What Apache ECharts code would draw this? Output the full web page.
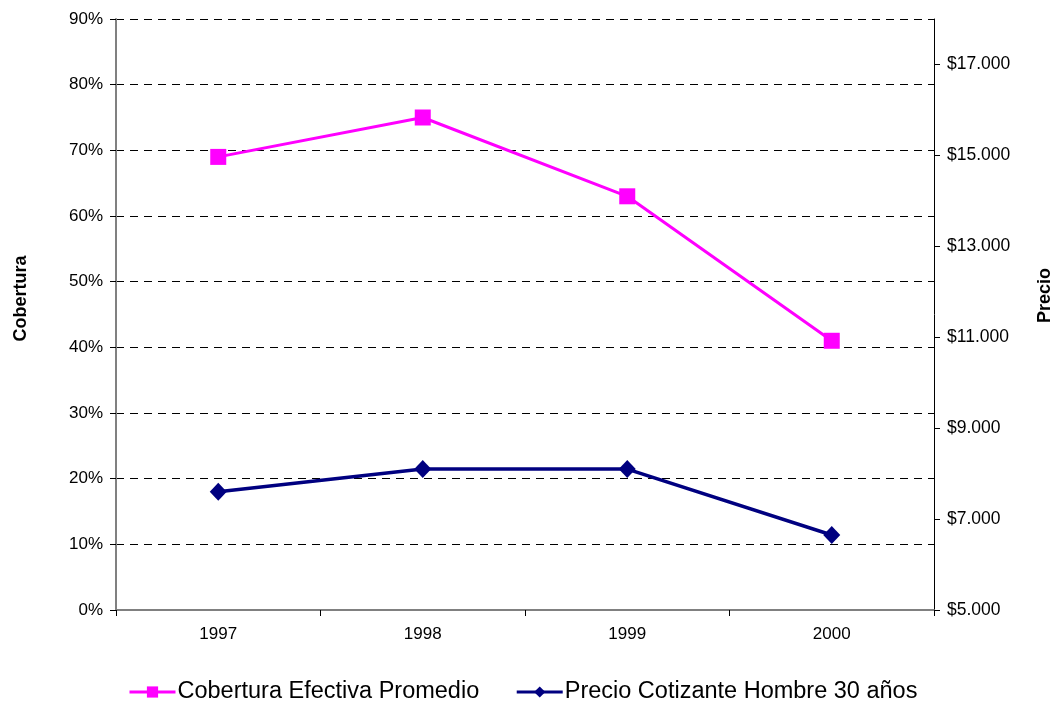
<!DOCTYPE html>
<html>
<head>
<meta charset="utf-8">
<script src="https://cdn.jsdelivr.net/npm/echarts@6/dist/echarts.min.js"></script>
<style>html,body{margin:0;padding:0;background:#fff;overflow:hidden;}#c{width:1057px;height:704px;}</style>
</head>
<body>
<div id="c"></div>
<script>
const categories = ['1997', '1998', '1999', '2000'];
const cobertura = [69, 75, 63, 41];
const precio = [7600, 8100, 8100, 6650];
const seriesNames = ['Cobertura Efectiva Promedio', 'Precio Cotizante Hombre 30 años'];

const FONT = 'Liberation Sans, Arial, sans-serif';
const chart = echarts.init(document.getElementById('c'), null, {renderer: 'canvas'});
chart.setOption({
  animation: false,
  backgroundColor: '#ffffff',
  textStyle: {fontFamily: FONT},
  grid: {left: 116, right: 123, top: 19, bottom: 94, containLabel: false, outerBoundsMode: 'none'},
  legend: {
    top: 680, left: 128, padding: 0, itemGap: 36, itemWidth: 46, itemHeight: 14,
    lineStyle: {width: 3},
    textStyle: {fontFamily: FONT, fontSize: 23.5, color: '#000', padding: [0, 0, 0, -3]},
    data: seriesNames
  },
  xAxis: {
    type: 'category', data: categories, boundaryGap: true,
    axisLine: {lineStyle: {color: '#808080', width: 2}},
    axisTick: {show: true, length: 6, alignWithLabel: false, lineStyle: {color: '#000'}},
    axisLabel: {color: '#000', fontSize: 17, margin: 16, fontFamily: FONT}
  },
  yAxis: [{
    type: 'value', min: 0, max: 90, interval: 10, position: 'left',
    name: 'Cobertura', nameLocation: 'middle', nameRotate: 90, nameGap: 86,
    nameTextStyle: {fontWeight: 'bold', fontSize: 18, color: '#000', fontFamily: FONT, padding: [0, 0, 0, 32]},
    axisLine: {show: true, lineStyle: {color: '#808080', width: 2}},
    axisTick: {show: true, length: 6, lineStyle: {color: '#000'}},
    axisLabel: {color: '#000', fontSize: 17, margin: 13, formatter: '{value}%', fontFamily: FONT},
    splitLine: {show: true, lineStyle: {color: '#000', type: [8, 6], width: 1}}
  }, {
    type: 'value', min: 5000, max: 18000, interval: 2000, position: 'right',
    name: 'Precio', nameLocation: 'middle', nameRotate: 90, nameGap: 102,
    nameTextStyle: {fontWeight: 'bold', fontSize: 18, color: '#000', fontFamily: FONT, padding: [0, 0, 0, 38]},
    axisLine: {show: true, lineStyle: {color: '#000', width: 1}},
    axisTick: {show: true, length: 6, lineStyle: {color: '#000'}},
    axisLabel: {
      color: '#000', fontSize: 17.5, margin: 13, showMaxLabel: false, fontFamily: FONT,
      formatter: v => v >= 18000 ? '' : '$' + String(v).replace(/\B(?=(\d{3})+(?!\d))/g, '.')
    },
    splitLine: {show: false}
  }],
  series: [{
    name: seriesNames[0], type: 'line', yAxisIndex: 0, data: cobertura,
    symbol: 'rect', symbolSize: 16,
    lineStyle: {color: '#ff00ff', width: 3},
    itemStyle: {color: '#ff00ff'}
  }, {
    name: seriesNames[1], type: 'line', yAxisIndex: 1, data: precio,
    symbol: 'diamond', symbolSize: [17, 18],
    lineStyle: {color: '#000080', width: 3.5},
    itemStyle: {color: '#000080'}
  }]
});
</script>
</body>
</html>
